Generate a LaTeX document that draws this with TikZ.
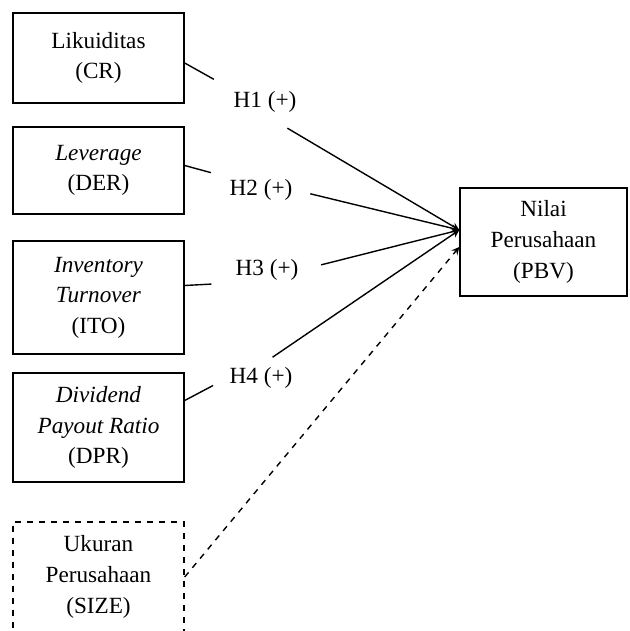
\documentclass[tikz,border=0pt]{standalone}
\usepackage{fontspec}
\setmainfont{Liberation Serif}
\usetikzlibrary{arrows,positioning,calc}

\begin{document}
\begin{tikzpicture}[
    x=0.5pt, y=-0.5pt,
    font=\fontsize{11.6}{15.3}\selectfont,
    var/.style={rectangle, draw, line width=0.7pt, align=center, inner sep=0pt, minimum width=85.5pt},
    proxy/.style={var, dashed},
    hyp/.style={inner sep=1pt},
    link/.style={line width=0.7pt},
    arrow/.style={->, >=stealth, line width=0.7pt}
]
\path[use as bounding box, clip] (0,0) rectangle (629,631);

% Independent variables
\node[var, minimum height=45pt] (cr) at (98.5, 58) {Likuiditas\\(CR)};
\node[var, minimum height=43.5pt] (der) at (98.5, 170.5) {\textit{Leverage}\\(DER)};
\node[var, minimum height=56.5pt] (ito) at (98.5, 297.5) {\textit{Inventory}\\\textit{Turnover}\\(ITO)};
\node[var, minimum height=54.5pt] (dpr) at (98.5, 427.5) {\textit{Dividend}\\\textit{Payout Ratio}\\(DPR)};
\node[proxy, minimum height=55pt] (size) at (98.5, 577) {Ukuran\\Perusahaan\\(SIZE)};

% Dependent variable
\node[var, minimum width=83.5pt, minimum height=54pt] (pbv) at (543.5, 242) {Nilai\\Perusahaan\\(PBV)};
\coordinate (hit) at ([yshift=6pt]pbv.west);

% Hypotheses
\node[hyp] (h1) at (265, 102) {H1 (+)};
\node[hyp] (h2) at (261, 190) {H2 (+)};
\node[hyp] (h3) at (267, 270) {H3 (+)};
\node[hyp] (h4) at (261, 378) {H4 (+)};

% Links to hypotheses
\draw[link, shorten >=10pt] ([yshift=-2.5pt]cr.east) -- (h1.north west);
\draw[link, shorten >=8.5pt] ([yshift=2.5pt]der.east) -- (h2.north west);
\draw[link, shorten >=11pt] ([yshift=6pt]ito.east) -- (h3.south west);
\draw[link, shorten >=8pt] ([yshift=13.5pt]dpr.east) -- (h4.west);

% Arrows
\draw[arrow, shorten <=13pt] (h1.south) -- (hit);
\draw[arrow, shorten <=8pt] (h2.east) -- (hit);
\draw[arrow, shorten <=10.5pt] (h3.east) -- (hit);
\draw[arrow, shorten <=7pt] (h4.north) -- (hit);
\draw[arrow, dashed] (size.east) -- ([yshift=-2.5pt]pbv.west);

\end{tikzpicture}
\end{document}
